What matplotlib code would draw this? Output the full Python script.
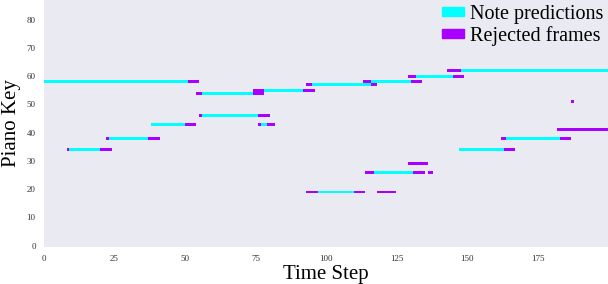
import numpy as np
import matplotlib
matplotlib.use("Agg")
import matplotlib.pyplot as plt
from matplotlib.colors import ListedColormap
from matplotlib.patches import Patch

plt.rcParams["font.family"] = ["Liberation Serif", "DejaVu Serif"]

n_keys = 88
n_steps = 200

# predicted notes (key, first step, end step)
note_keys = [58, 43, 38, 34, 54, 55, 57, 58, 46, 43, 60, 62, 34, 26, 19, 38]
note_starts = [0, 38, 23, 9, 56, 78, 95, 116, 56, 77, 132, 148, 147, 117, 97, 164]
note_ends = [51, 50, 37, 20, 74, 92, 116, 130, 76, 79, 145, 200, 163, 131, 110, 183]

# rejected frames
rej_keys = [58, 43, 38, 38, 34, 34, 54, 54, 55, 55, 57, 57, 58, 58, 46, 46,
            43, 43, 60, 60, 62, 34, 29, 26, 26, 26, 19, 19, 19, 51, 41, 38, 38]
rej_starts = [51, 50, 22, 37, 8, 20, 54, 74, 74, 92, 93, 116, 113, 130, 55, 76,
              76, 79, 129, 145, 143, 163, 129, 114, 131, 136, 93, 110, 118, 187, 182, 162, 183]
rej_ends = [55, 54, 23, 41, 9, 24, 56, 78, 78, 96, 95, 118, 116, 134, 56, 80,
            77, 82, 132, 149, 148, 167, 136, 117, 135, 138, 97, 114, 125, 188, 200, 164, 187]

x_ticks = [0, 25, 50, 75, 100, 125, 150, 175]
y_ticks = [0, 10, 20, 30, 40, 50, 60, 70, 80]

c_note = "#00FFFF"
c_rej = "#AA00FF"

roll = np.zeros((n_keys, n_steps))
for k, s, e in zip(note_keys, note_starts, note_ends):
    roll[k, s:e] = 1
for k, s, e in zip(rej_keys, rej_starts, rej_ends):
    roll[k, s:e] = 2
roll = np.ma.masked_equal(roll, 0)

fig = plt.figure(figsize=(6.08, 2.84), dpi=100)
ax = fig.add_axes([44 / 608, 37 / 284, 564 / 608, 247 / 284])
ax.set_facecolor("#EAEAF2")
for sp in ax.spines.values():
    sp.set_visible(False)

ax.imshow(roll, origin="lower", aspect="auto", interpolation="nearest",
          cmap=ListedColormap([c_note, c_rej]), vmin=0.5, vmax=2.5,
          extent=(0, n_steps, -0.5, n_keys - 0.5))
ax.set_xlim(0, n_steps)
ax.set_ylim(-0.5, n_keys - 1)

ax.set_xticks(x_ticks)
ax.set_yticks(y_ticks)
ax.tick_params(length=0, labelsize=6.5, labelcolor="#333333", pad=6)
ax.set_xlabel("Time Step", fontsize=15, labelpad=1)
ax.set_ylabel("Piano Key", fontsize=15, labelpad=4)

handles = [Patch(color=c_note, label="Note predictions"),
           Patch(color=c_rej, label="Rejected frames")]
ax.legend(handles=handles, loc="upper right", frameon=False, fontsize=14.5,
          handlelength=1.05, handleheight=0.3, handletextpad=0.3,
          labelspacing=0.1, borderaxespad=0.0, borderpad=0.25)

fig.savefig("out.png", dpi=100)
